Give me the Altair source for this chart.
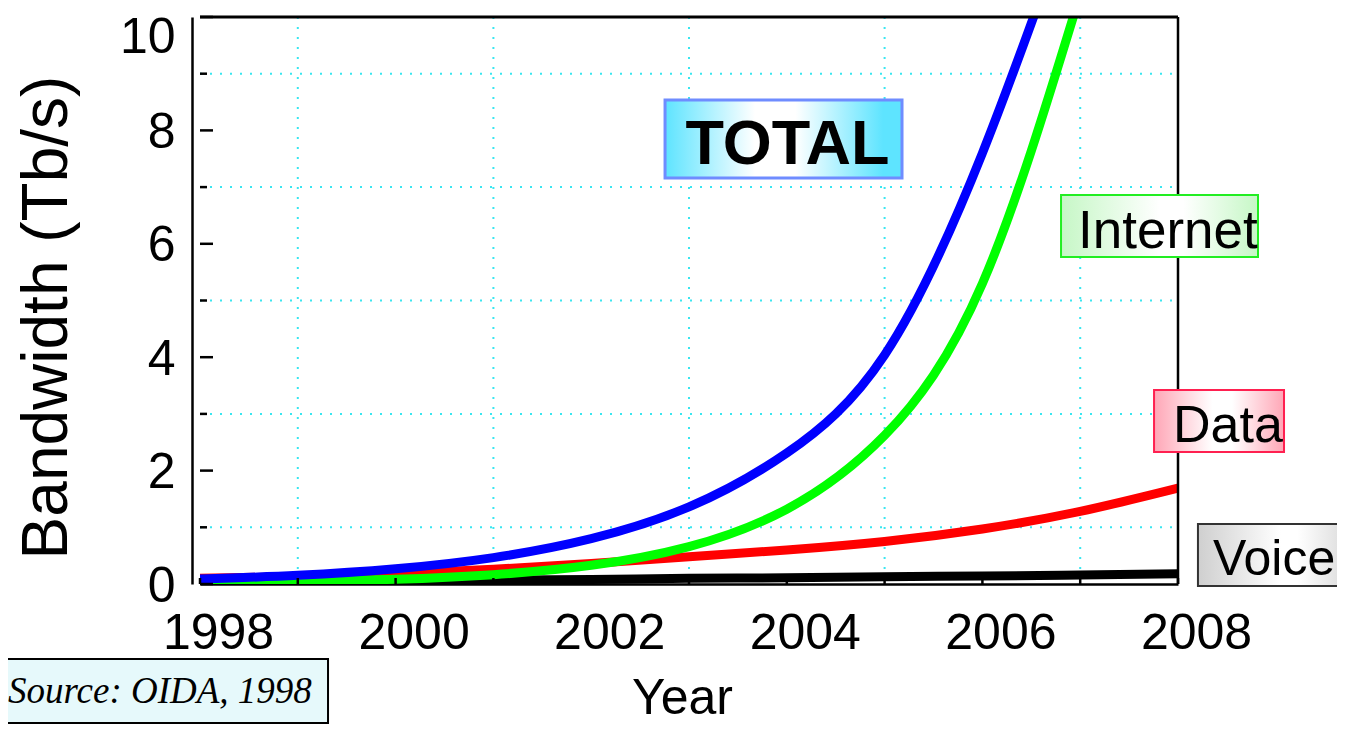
import altair as alt
import pandas as pd

# ---------------- data ----------------
years = [1998, 1999, 2000, 2001, 2002, 2003, 2004, 2005, 2006, 2007, 2008]
total_bw = [0.087, 0.154, 0.269, 0.466, 0.80, 1.36, 2.31, 4.04, 7.6, 12.3]
internet_bw = [0.021, 0.042, 0.083, 0.165, 0.33, 0.66, 1.32, 2.62, 5.3, 10.4]
data_bw = [0.10, 0.13, 0.18, 0.26, 0.36, 0.48, 0.60, 0.75, 0.97, 1.28, 1.69]
voice_bw = [0.04, 0.05, 0.06, 0.07, 0.08, 0.10, 0.11, 0.13, 0.14, 0.16, 0.18]

series_names = ["Voice", "Data", "Internet", "TOTAL"]
series_values = [voice_bw, data_bw, internet_bw, total_bw]
series_colors = ["#000000", "#ff0000", "#00ff00", "#0000ff"]

x_label_years = [1998, 2000, 2002, 2004, 2006, 2008]
x_grid_years = [1999, 2001, 2003, 2005, 2007]
y_major = [0, 2, 4, 6, 8, 10]
y_minor = [1, 3, 5, 7, 9]

# annotation boxes (in data units)
ann_text = ["TOTAL", "Internet", "Data", "Voice", "Source: OIDA, 1998"]
ann_x0 = [2002.755, 2006.804, 2007.755, 2008.204, 1995.9]
ann_x1 = [2005.178, 2008.818, 2009.084, 2009.9, 1999.309]
ann_y0 = [7.160, 5.767, 2.328, -0.035, -2.452]
ann_y1 = [8.536, 6.861, 3.422, 1.058, -1.323]
ann_tx = [2004.007, 2006.978, 2007.949, 2008.357, 1996.037]
ann_ty = [7.407, 5.926, 2.504, 0.159, -2.099]

# ---------------- styling ----------------
W, H = 978, 567
SANS = "Liberation Sans"
SERIF = "Liberation Serif"
ann_align = ["center", "left", "left", "left", "left"]
ann_size = [63, 53, 52, 50, 37]
ann_weight = ["bold", "normal", "normal", "normal", "normal"]
ann_font = [SANS, SANS, SANS, SANS, SERIF]
ann_style = ["normal", "normal", "normal", "normal", "italic"]
ann_stroke = ["#6f8cff", "#22ee22", "#ff2050", "#333333", "#000000"]
ann_swidth = [3, 2, 2, 2, 2]
ann_grad = [
    [(0, "#5ee4ff"), (0.38, "#ffffff"), (0.55, "#ffffff"), (0.92, "#5ee4ff"), (1, "#5ee4ff")],
    [(0, "#c6f7c6"), (0.5, "#ffffff"), (0.62, "#ffffff"), (1, "#c6f7c6")],
    [(0, "#ffa6b6"), (0.45, "#ffffff"), (0.6, "#ffffff"), (1, "#ffa6b6")],
    [(0, "#cfcfcf"), (0.5, "#ffffff"), (0.6, "#ffffff"), (1, "#cfcfcf")],
    [(0, "#e6f9fb"), (1, "#e6f9fb")],
]

xs = alt.Scale(domain=[1998, 2008], nice=False, zero=False)
ys = alt.Scale(domain=[0, 10], nice=False, zero=False)
GRID = "#3ae6f0"
XT = "Year"
YT = "Bandwidth (Tb/s)"

AX = alt.Axis(values=x_label_years, format="d", grid=False, ticks=False, tickSize=0,
              domainColor="black", domainWidth=2.5,
              labelFont=SANS, labelFontSize=50, labelColor="black",
              labelPadding=24, labelOffset=18, labelFlush=False, labelOverlap=False,
              titleFont=SANS, titleFontSize=50, titleFontWeight="normal",
              titleColor="black", titleX=482, titleY=129,
              titleBaseline="alphabetic", titleAlign="center")
AY = alt.Axis(values=y_major, format="d", grid=False, ticks=False, tickSize=0,
              offset=8, domainColor="black", domainWidth=2.5,
              labelFont=SANS, labelFontSize=50, labelColor="black",
              labelPadding=17, labelFlush=False, labelOverlap=False,
              labelOffset={"condition": {"test": "datum.value == 10", "value": 20}, "value": 2},
              titleFont=SANS, titleFontSize=64, titleFontWeight="normal",
              titleColor="black", titleX=-126, titleY=300, titleAngle=270,
              titleBaseline="alphabetic", titleAlign="center")


def X(field):
    return alt.X(field, scale=xs, axis=AX, title=XT)


def Y(field):
    return alt.Y(field, scale=ys, axis=AY, title=YT)


layers = []

# grid lines (odd values)
layers.append(
    alt.Chart(pd.DataFrame({"v": y_minor})).mark_rule(color=GRID, strokeWidth=2, strokeDash=[2, 8])
    .encode(y=Y("v:Q"), x=alt.value(0), x2=alt.value(W))
)
layers.append(
    alt.Chart(pd.DataFrame({"yr": x_grid_years})).mark_rule(color=GRID, strokeWidth=2, strokeDash=[2, 8])
    .encode(x=X("yr:Q"), y=alt.value(0), y2=alt.value(H))
)

# series lines
for name, vals, col in zip(series_names, series_values, series_colors):
    df = pd.DataFrame({"yr": years[: len(vals)], "v": vals})
    layers.append(
        alt.Chart(df).mark_line(color=col, strokeWidth=9, interpolate="natural", clip=True, strokeCap="butt")
        .encode(x=X("yr:Q"), y=Y("v:Q"))
    )

# inner ticks on y (major long, minor short)
layers.append(
    alt.Chart(pd.DataFrame({"v": y_major})).mark_rule(color="black", strokeWidth=2.5)
    .encode(y=Y("v:Q"), x=alt.value(0), x2=alt.value(13))
)
layers.append(
    alt.Chart(pd.DataFrame({"v": y_minor})).mark_rule(color="black", strokeWidth=2.5)
    .encode(y=Y("v:Q"), x=alt.value(0), x2=alt.value(7))
)
# inner ticks on x
layers.append(
    alt.Chart(pd.DataFrame({"yr": years})).mark_rule(color="black", strokeWidth=2.5)
    .encode(x=X("yr:Q"), y=alt.value(H), y2=alt.value(H - 6))
)
# top and right frame
layers.append(
    alt.Chart(pd.DataFrame({"v": [10]})).mark_rule(color="black", strokeWidth=3)
    .encode(y=Y("v:Q"), x=alt.value(0), x2=alt.value(W))
)
layers.append(
    alt.Chart(pd.DataFrame({"yr": [2008]})).mark_rule(color="black", strokeWidth=2.5)
    .encode(x=X("yr:Q"), y=alt.value(0), y2=alt.value(H))
)

# annotation boxes and labels
for i in range(len(ann_text)):
    grad = alt.LinearGradient(
        gradient="linear",
        stops=[alt.GradientStop(offset=o, color=c) for o, c in ann_grad[i]],
        x1=0, x2=1, y1=0, y2=0,
    )
    box_df = pd.DataFrame({"x0": [ann_x0[i]], "x1": [ann_x1[i]], "y0": [ann_y0[i]], "y1": [ann_y1[i]],
                           "tx": [ann_tx[i]], "ty": [ann_ty[i]], "t": [ann_text[i]]})
    layers.append(
        alt.Chart(box_df).mark_rect(fill=grad, stroke=ann_stroke[i], strokeWidth=ann_swidth[i])
        .encode(x=X("x0:Q"), x2="x1:Q", y=Y("y0:Q"), y2="y1:Q")
    )
    layers.append(
        alt.Chart(box_df).mark_text(align=ann_align[i], baseline="alphabetic", font=ann_font[i],
                                    fontSize=ann_size[i], fontWeight=ann_weight[i],
                                    fontStyle=ann_style[i], color="black")
        .encode(x=X("tx:Q"), y=Y("ty:Q"), text="t:N")
    )

chart = (
    alt.layer(*layers)
    .properties(width=W, height=H,
                autosize=alt.AutoSizeParams(type="none"),
                padding={"left": 192, "top": 9, "right": 159, "bottom": 140},
                background="white")
    .configure_view(stroke=None)
)

chart.save("out.html", embed_options={"renderer": "svg", "actions": False})
